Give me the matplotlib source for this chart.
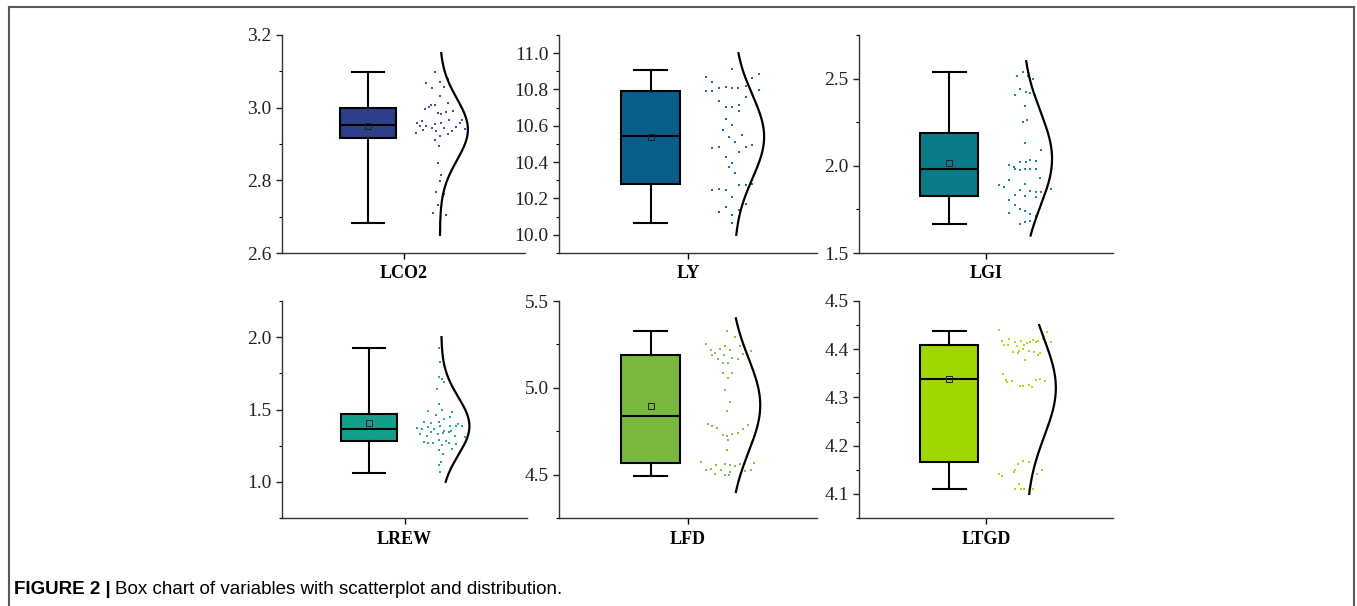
import numpy as np
import matplotlib
matplotlib.use('Agg')
import matplotlib.pyplot as plt
from matplotlib.lines import Line2D
from matplotlib.ticker import MultipleLocator, FormatStrFormatter

# Variable names and colours
NAMES = ['LCO2', 'LY', 'LGI', 'LREW', 'LFD', 'LTGD']
COLORS = ['#2f408b', '#0a5e8b', '#0b7b87', '#12a08a', '#78b83c', '#a0d700']

# Box statistics: whisker low, Q1, median, Q3, whisker high, mean
WHISLO = [2.683, 10.067, 1.669, 1.064, 4.490, 4.110]
Q1 = [2.916, 10.278, 1.826, 1.283, 4.567, 4.166]
MED = [2.953, 10.544, 1.980, 1.364, 4.835, 4.338]
Q3 = [3.000, 10.790, 2.189, 1.472, 5.188, 4.409]
WHISHI = [3.098, 10.907, 2.538, 1.926, 5.328, 4.438]
MEAN = [2.950, 10.537, 2.018, 1.408, 4.893, 4.338]

# Normal curve parameters (mean, sd, y range)
NORM_MU = [2.94, 10.54, 2.04, 1.385, 4.90, 4.32]
NORM_SD = [0.085, 0.23, 0.27, 0.20, 0.27, 0.10]
NORM_LO = [2.65, 10.0, 1.6, 1.0, 4.4, 4.10]
NORM_HI = [3.15, 11.0, 2.6, 2.0, 5.4, 4.45]

# Scatter values (y) and their horizontal spread inside the scatter band (0..1)
LCO2 = [3.098, 3.069, 3.072, 3.080, 3.054, 3.058, 3.031, 3.012, 2.996, 3.003,
        3.006, 3.006, 2.984, 2.982, 2.987, 2.992, 2.959, 2.962, 2.966, 2.967,
        2.949, 2.950, 2.956, 2.958, 2.958, 2.947, 2.941, 2.931, 2.939, 2.943,
        2.936, 2.944, 2.927, 2.936, 2.922, 2.911, 2.894, 2.848, 2.814, 2.799,
        2.768, 2.762, 2.746, 2.732, 2.709, 2.705, 2.682]
LCO2_jit = [0.34, 0.19, 0.42, 0.56, 0.28, 0.49, 0.42, 0.56, 0.17, 0.24,
            0.27, 0.34, 0.39, 0.45, 0.53, 0.66, 0.02, 0.11, 0.59, 0.82,
            0.07, 0.19, 0.34, 0.44, 0.77, 0.71, 0.86, 0.00, 0.12, 0.28,
            0.36, 0.49, 0.56, 0.63, 0.42, 0.34, 0.41, 0.39, 0.44, 0.42,
            0.35, 0.49, 0.46, 0.39, 0.31, 0.53, 0.42]

LY = [10.911, 10.867, 10.839, 10.885, 10.861, 10.789, 10.789, 10.811, 10.815, 10.806,
      10.806, 10.819, 10.796, 10.735, 10.704, 10.704, 10.713, 10.759, 10.681, 10.639,
      10.607, 10.578, 10.537, 10.552, 10.509, 10.485, 10.496, 10.478, 10.481, 10.456,
      10.426, 10.398, 10.374, 10.343, 10.246, 10.254, 10.246, 10.272, 10.272, 10.281,
      10.207, 10.170, 10.139, 10.154, 10.126, 10.107, 10.065]
LY_jit = [0.52, 0.08, 0.18, 0.96, 0.84, 0.09, 0.18, 0.30, 0.41, 0.52,
          0.62, 0.74, 0.96, 0.30, 0.41, 0.52, 0.63, 0.74, 0.63, 0.41,
          0.52, 0.36, 0.47, 0.68, 0.57, 0.74, 0.85, 0.19, 0.30, 0.63,
          0.41, 0.52, 0.47, 0.57, 0.19, 0.30, 0.41, 0.63, 0.74, 0.84,
          0.52, 0.74, 0.63, 0.41, 0.30, 0.52, 0.52]

LGI = [2.517, 2.538, 2.513, 2.500, 2.408, 2.440, 2.423, 2.417, 2.341, 2.250,
       2.264, 2.128, 2.091, 2.005, 1.995, 2.020, 2.024, 2.036, 2.028, 1.982,
       1.976, 1.980, 1.982, 1.982, 1.932, 1.920, 1.890, 1.880, 1.895, 1.861,
       1.855, 1.851, 1.851, 1.855, 1.867, 1.832, 1.826, 1.819, 1.803, 1.778,
       1.755, 1.740, 1.721, 1.713, 1.780, 1.732, 1.669, 1.677, 1.686]
LGI_jit = [0.30, 0.41, 0.49, 0.57, 0.27, 0.36, 0.46, 0.53, 0.44, 0.40,
           0.48, 0.44, 0.71, 0.17, 0.26, 0.36, 0.45, 0.53, 0.62, 0.27,
           0.36, 0.44, 0.53, 0.62, 0.70, 0.18, 0.01, 0.09, 0.44, 0.36,
           0.53, 0.62, 0.71, 0.80, 0.88, 0.27, 0.44, 0.62, 0.18, 0.27,
           0.36, 0.44, 0.53, 0.62, 0.71, 0.18, 0.36, 0.44, 0.53]

LREW = [1.926, 1.910, 1.827, 1.726, 1.712, 1.689, 1.645, 1.535, 1.493, 1.500,
        1.482, 1.465, 1.415, 1.408, 1.417, 1.431, 1.449, 1.403, 1.369, 1.366,
        1.376, 1.366, 1.385, 1.350, 1.389, 1.385, 1.389, 1.350, 1.334, 1.318,
        1.343, 1.334, 1.339, 1.343, 1.320, 1.311, 1.274, 1.265, 1.265, 1.288,
        1.256, 1.283, 1.270, 1.260, 1.230, 1.219, 1.189, 1.134, 1.113, 1.067]
LREW_jit = [0.39, 0.44, 0.40, 0.38, 0.44, 0.47, 0.36, 0.38, 0.19, 0.44,
            0.62, 0.33, 0.13, 0.24, 0.38, 0.47, 0.58, 0.71, 0.00, 0.09,
            0.19, 0.30, 0.40, 0.48, 0.58, 0.69, 0.78, 0.60, 0.06, 0.17,
            0.24, 0.37, 0.46, 0.56, 0.66, 0.84, 0.13, 0.20, 0.28, 0.38,
            0.44, 0.50, 0.56, 0.69, 0.62, 0.38, 0.46, 0.42, 0.39, 0.41]

LFD = [5.329, 5.291, 5.251, 5.218, 5.203, 5.224, 5.238, 5.218, 5.238, 5.218,
       5.213, 5.188, 5.165, 5.188, 5.174, 5.165, 5.192, 5.142, 5.142, 5.088,
       5.088, 5.059, 4.989, 4.921, 4.868, 4.793, 4.778, 4.768, 4.787, 4.764,
       4.739, 4.736, 4.720, 4.726, 4.701, 4.640, 4.573, 4.529, 4.533, 4.557,
       4.563, 4.556, 4.552, 4.563, 4.567, 4.504, 4.525, 4.500, 4.513, 4.496,
       4.519, 4.529]
LFD_jit = [0.43, 0.57, 0.08, 0.17, 0.24, 0.32, 0.40, 0.48, 0.64, 0.72,
           0.82, 0.19, 0.29, 0.38, 0.52, 0.61, 0.69, 0.36, 0.44, 0.36,
           0.52, 0.44, 0.40, 0.48, 0.43, 0.11, 0.19, 0.27, 0.77, 0.69,
           0.61, 0.52, 0.43, 0.36, 0.44, 0.43, 0.00, 0.08, 0.16, 0.25,
           0.40, 0.48, 0.57, 0.65, 0.88, 0.23, 0.33, 0.40, 0.48, 0.47,
           0.73, 0.82]

LTGD = [4.439, 4.435, 4.418, 4.421, 4.416, 4.418, 4.412, 4.419, 4.417, 4.421,
        4.414, 4.408, 4.409, 4.406, 4.409, 4.416, 4.414, 4.395, 4.397, 4.400,
        4.397, 4.394, 4.388, 4.392, 4.392, 4.378, 4.349, 4.337, 4.335, 4.324,
        4.323, 4.326, 4.321, 4.337, 4.339, 4.335, 4.333, 4.168, 4.161, 4.166,
        4.150, 4.142, 4.138, 4.145, 4.149, 4.142, 4.121, 4.110, 4.110, 4.111,
        4.109, 4.110, 4.116]
LTGD_jit = [0.00, 0.81, 0.05, 0.18, 0.27, 0.37, 0.48, 0.57, 0.66, 0.74,
            0.88, 0.09, 0.16, 0.30, 0.43, 0.52, 0.62, 0.24, 0.34, 0.40,
            0.51, 0.59, 0.66, 0.70, 0.32, 0.44, 0.08, 0.13, 0.22, 0.35,
            0.41, 0.50, 0.55, 0.62, 0.70, 0.78, 0.14, 0.41, 0.32, 0.51,
            0.27, 0.01, 0.06, 0.26, 0.73, 0.64, 0.34, 0.28, 0.37, 0.43,
            0.51, 0.57, 0.53]

SCATTER = [LCO2, LY, LGI, LREW, LFD, LTGD]
JITTER = [LCO2_jit, LY_jit, LGI_jit, LREW_jit, LFD_jit, LTGD_jit]

# Axis settings
YLIM = [(2.6, 3.2), (9.9, 11.1), (1.5, 2.75), (0.75, 2.25), (4.25, 5.5), (4.05, 4.5)]
YMAJOR = [0.2, 0.2, 0.5, 0.5, 0.5, 0.1]
YTICK_START = [2.6, 10.0, 1.5, 1.0, 4.5, 4.1]

# Layout in pixels (left, right, top, bottom) of each panel
W, H = 1357, 606
PANELS = [(282, 525, 35, 253), (559, 817, 35, 253), (859, 1113, 35, 253),
          (282, 527, 301, 518), (559, 817, 301, 518), (859, 1113, 301, 518)]
CURVE_BASE = [0.30, 0.36, 0.29, 0.30, 0.33, 0.32]

plt.rcParams['font.family'] = ['Liberation Serif', 'DejaVu Serif']

fig = plt.figure(figsize=(W / 100, H / 100), dpi=100)

for i, name in enumerate(NAMES):
    l, r, t, b = PANELS[i]
    ax = fig.add_axes([l / W, 1 - b / H, (r - l) / W, (b - t) / H])
    color = COLORS[i]

    stats = [dict(whislo=WHISLO[i], q1=Q1[i], med=MED[i], q3=Q3[i],
                  whishi=WHISHI[i], mean=MEAN[i], fliers=[])]
    ax.bxp(stats, positions=[-0.29], widths=0.46, capwidths=0.26,
           patch_artist=True, showmeans=True,
           boxprops=dict(facecolor=color, edgecolor='black', linewidth=1.5),
           medianprops=dict(color='black', linewidth=1.5),
           whiskerprops=dict(color='black', linewidth=1.5),
           capprops=dict(color='black', linewidth=1.5),
           meanprops=dict(marker='s', markersize=4, markerfacecolor='none',
                          markeredgecolor='#222222', markeredgewidth=0.7))

    # scattered raw values
    xs = 0.10 + 0.47 * np.array(JITTER[i])
    ax.scatter(xs, SCATTER[i], s=3.5, color=color, marker='s', linewidths=0,
               alpha=0.9, zorder=3)

    # normal distribution curve
    yy = np.linspace(NORM_LO[i], NORM_HI[i], 200)
    pdf = np.exp(-0.5 * ((yy - NORM_MU[i]) / NORM_SD[i]) ** 2)
    ax.plot(CURVE_BASE[i] + 0.23 * pdf, yy, color='black', linewidth=1.6, zorder=4)

    ax.set_xlim(-1, 1)
    ax.set_ylim(*YLIM[i])
    ax.yaxis.set_major_locator(MultipleLocator(YMAJOR[i]))
    ax.yaxis.set_minor_locator(MultipleLocator(YMAJOR[i] / 2))
    ax.yaxis.set_major_formatter(FormatStrFormatter('%.1f'))
    ax.set_yticks([v for v in ax.get_yticks() if YTICK_START[i] - 1e-9 <= v <= YLIM[i][1] + 1e-9])
    ax.set_xticks([0])
    ax.set_xticklabels([name], fontweight='bold', fontsize=13)
    ax.tick_params(axis='y', which='major', direction='out', length=4, width=1,
                   labelsize=14, colors='#222222')
    ax.tick_params(axis='y', which='minor', direction='out', length=2.5, width=0.8)
    ax.tick_params(axis='x', direction='out', length=4, width=1, pad=5)
    for side in ['top', 'right']:
        ax.spines[side].set_visible(False)
    for side in ['left', 'bottom']:
        ax.spines[side].set_color('#333333')
        ax.spines[side].set_linewidth(1)

# frame around the figure
frame = dict(transform=fig.transFigure, color='#5a5a5a', linewidth=1.5)
fig.add_artist(Line2D([9 / W, 9 / W], [0, 1 - 7 / H], **frame))
fig.add_artist(Line2D([9 / W, 1354 / W], [1 - 7 / H, 1 - 7 / H], **frame))
fig.add_artist(Line2D([1354 / W, 1354 / W], [0, 1 - 7 / H], **frame))

# caption
cap_y = 1 - 589 / H
t1 = fig.text(14 / W, cap_y, 'FIGURE 2 |', fontsize=13.5, fontweight='bold',
              family='Liberation Sans', va='center')
fig.canvas.draw()
bb = t1.get_window_extent()
fig.text((bb.x1 + 4) / W, cap_y, 'Box chart of variables with scatterplot and distribution.',
         fontsize=13.5, family='Liberation Sans', va='center')

fig.savefig('out.png', dpi=100)
